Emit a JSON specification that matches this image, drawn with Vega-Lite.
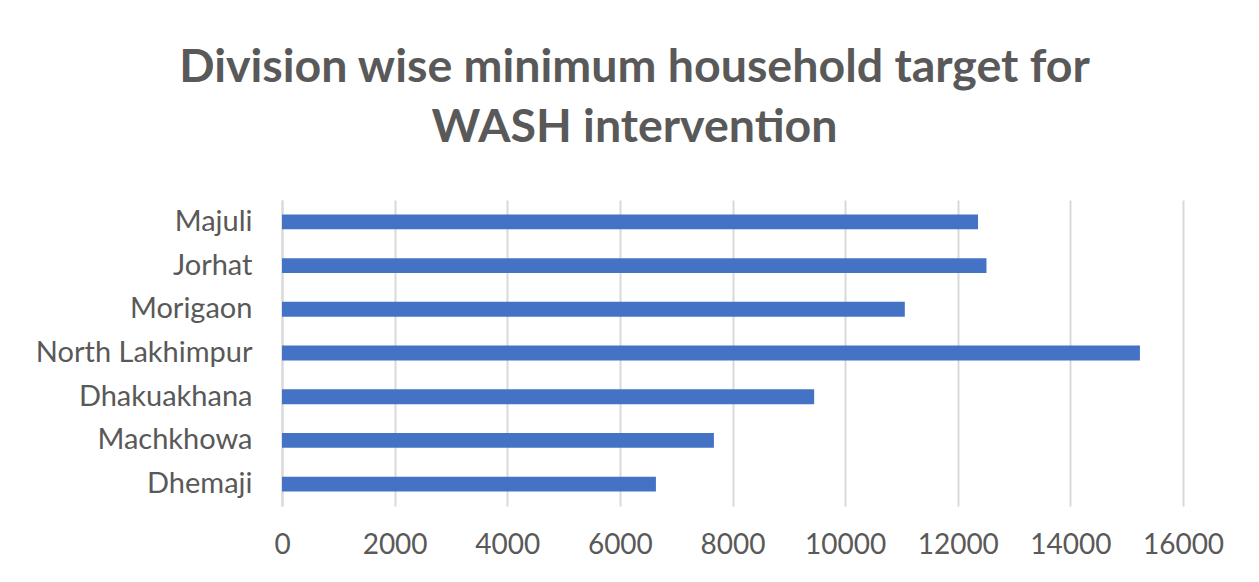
{
  "$schema": "https://vega.github.io/schema/vega-lite/v6.json",
  "width": 901,
  "height": 306,
  "autosize": {"type": "none"},
  "padding": {"left": 282, "top": 200, "right": 76, "bottom": 76},
  "background": "white",
  "title": {
    "text": ["Division wise minimum household target for", "WASH intervention"],
    "font": "Lato",
    "fontSize": 46.5,
    "fontWeight": "bold",
    "color": "#595959",
    "anchor": "middle",
    "frame": "group",
    "dx": -98,
    "lineHeight": 60,
    "offset": 49
  },
  "data": {
    "values": [
      {"division": "Majuli", "target": 12360},
      {"division": "Jorhat", "target": 12510},
      {"division": "Morigaon", "target": 11060},
      {"division": "North Lakhimpur", "target": 15235},
      {"division": "Dhakuakhana", "target": 9450},
      {"division": "Machkhowa", "target": 7670},
      {"division": "Dhemaji", "target": 6640}
    ]
  },
  "mark": {"type": "bar", "color": "#4472C4"},
  "encoding": {
    "y": {
      "field": "division",
      "type": "nominal",
      "sort": null,
      "scale": {"paddingInner": 0.66, "paddingOuter": 0.33},
      "axis": {
        "title": null,
        "ticks": false,
        "domain": true,
        "domainColor": "#d9d9d9",
        "domainWidth": 2,
        "labelFont": "Lato",
        "labelFontSize": 29,
        "labelColor": "#595959",
        "labelPadding": 30,
        "labelLimit": 400
      }
    },
    "x": {
      "field": "target",
      "type": "quantitative",
      "scale": {"domain": [0, 16000], "nice": false},
      "axis": {
        "title": null,
        "values": [0, 2000, 4000, 6000, 8000, 10000, 12000, 14000, 16000],
        "format": "d",
        "grid": true,
        "gridColor": "#d9d9d9",
        "gridWidth": 2,
        "domain": false,
        "ticks": false,
        "labelFont": "Lato",
        "labelFontSize": 28,
        "labelColor": "#595959",
        "labelPadding": 25,
        "labelFlush": false
      }
    }
  },
  "config": {"view": {"stroke": null}}
}
